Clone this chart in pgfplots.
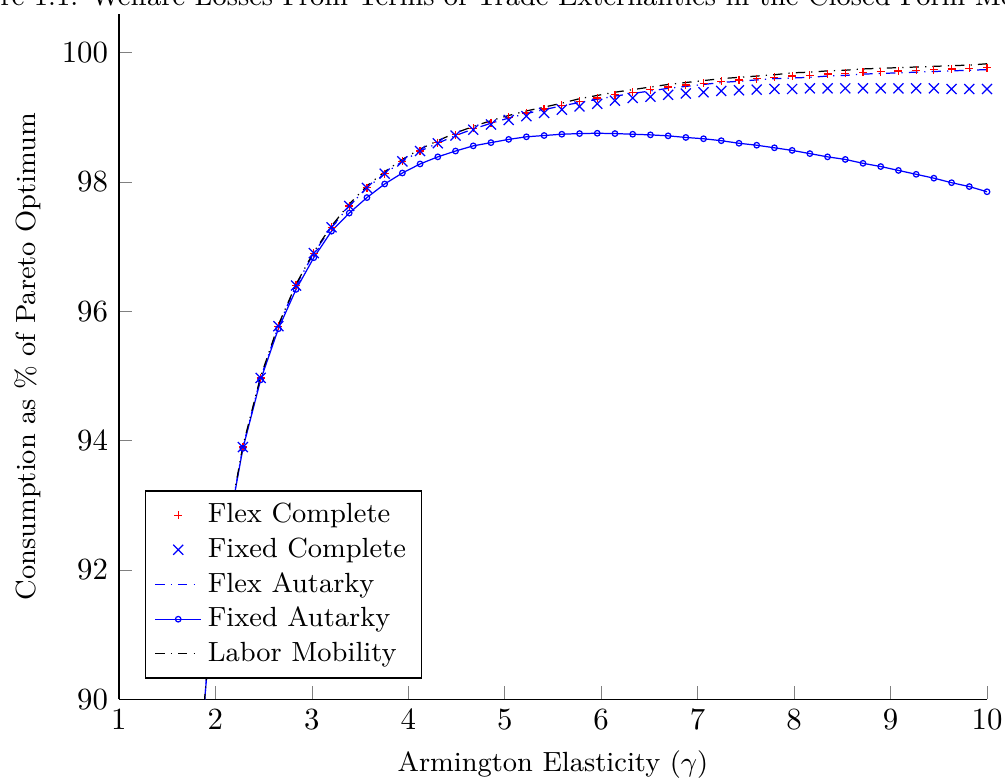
\documentclass[border=0pt]{standalone}
\usepackage{pgfplots}
\usepackage{pgfplotstable}
\pgfplotsset{compat=1.18}
\usetikzlibrary{calc}
\pgfplotstableread{
x fc fxc fa fxa lm
1.5510 82.50 82.50 82.50 82.50 82.55
1.7347 87.30 87.30 87.30 87.30 87.33
1.9184 90.50 90.50 90.50 90.50 90.52
2.1020 92.40 92.40 92.40 92.38 92.42
2.2857 93.90 93.90 93.90 93.88 93.92
2.4694 94.97 94.97 94.97 94.94 94.99
2.6531 95.77 95.77 95.77 95.73 95.79
2.8367 96.40 96.40 96.40 96.34 96.42
3.0204 96.90 96.90 96.90 96.83 96.92
3.2041 97.30 97.30 97.30 97.24 97.32
3.3878 97.63 97.63 97.63 97.52 97.66
3.5714 97.91 97.91 97.91 97.76 97.94
3.7551 98.13 98.13 98.13 97.97 98.16
3.9388 98.32 98.32 98.32 98.14 98.35
4.1224 98.48 98.48 98.48 98.28 98.51
4.3061 98.61 98.60 98.60 98.39 98.64
4.4898 98.73 98.72 98.72 98.48 98.76
4.6735 98.83 98.81 98.82 98.56 98.86
4.8571 98.92 98.89 98.91 98.61 98.95
5.0408 99.00 98.96 98.99 98.66 99.03
5.2245 99.07 99.02 99.06 98.70 99.10
5.4082 99.13 99.07 99.12 98.72 99.16
5.5918 99.19 99.12 99.18 98.74 99.22
5.7755 99.25 99.17 99.23 98.75 99.29
5.9592 99.30 99.21 99.28 98.755 99.34
6.1429 99.35 99.26 99.33 98.75 99.39
6.3265 99.39 99.30 99.37 98.74 99.43
6.5102 99.43 99.32 99.41 98.73 99.47
6.6939 99.47 99.35 99.45 98.715 99.51
6.8776 99.50 99.37 99.48 98.69 99.54
7.0612 99.53 99.39 99.51 98.67 99.57
7.2449 99.56 99.41 99.54 98.64 99.60
7.4286 99.58 99.42 99.56 98.60 99.62
7.6122 99.60 99.43 99.58 98.57 99.64
7.7959 99.62 99.44 99.60 98.53 99.66
7.9796 99.64 99.44 99.61 98.49 99.69
8.1633 99.65 99.45 99.62 98.44 99.70
8.3469 99.67 99.45 99.64 98.39 99.72
8.5306 99.68 99.45 99.65 98.35 99.73
8.7143 99.70 99.45 99.67 98.29 99.75
8.8980 99.71 99.45 99.68 98.24 99.76
9.0816 99.72 99.45 99.69 98.18 99.77
9.2653 99.73 99.45 99.70 98.12 99.78
9.4490 99.74 99.45 99.71 98.06 99.79
9.6327 99.75 99.44 99.72 97.99 99.80
9.8163 99.76 99.44 99.73 97.93 99.81
10.0000 99.77 99.44 99.74 97.85 99.83
}\datatable
\begin{document}
\begin{tikzpicture}
\begin{axis}[
  name=ax,
  set layers,
  scale only axis,
  width=281.8pt, height=222.4pt,
  xmin=1, xmax=10, ymin=90, ymax=100.6,
  axis x line*=bottom, axis y line*=left,
  xtick={1,2,...,10},
  ytick={90,92,94,96,98,100},
  xlabel={Armington Elasticity ($\gamma$)},
  ylabel={Consumption as \% of Pareto Optimum},
  label style={font=\small},
  legend style={at={(0.03,0.03)}, anchor=south west, draw=black, fill=white, font=\small, row sep=-0.65pt},
  legend cell align=left,
  legend image code/.code={\draw[mark repeat=2,mark phase=2,#1] plot coordinates {(0cm,0cm) (0.26cm,0cm) (0.52cm,0cm)};},
]
\addplot[only marks, red, mark=+, mark size=1.3pt, on layer=axis foreground] table[x=x, y=fc] {\datatable};
\addlegendentry{Flex Complete}
\addplot[only marks, blue, mark=x, mark size=2.3pt, on layer=axis foreground] table[x=x, y=fxc] {\datatable};
\addlegendentry{Fixed Complete}
\addplot[blue, dashdotted, no marks] table[x=x, y=fa] {\datatable};
\addlegendentry{Flex Autarky}
\addplot[color=blue, draw=blue, solid, mark=o, mark size=0.9pt, mark options={draw=blue}] table[x=x, y=fxa] {\datatable};
\addlegendentry{Fixed Autarky}
\addplot[black, dashdotted, no marks] table[x=x, y=lm] {\datatable};
\addlegendentry{Labor Mobility}
\end{axis}
\node[anchor=base west, inner sep=0pt, font=\small] at ($(ax.north west)+(-38.6pt,2.6pt)$) {\llap{Figu}re 1.1: Welfare Losses From Terms of Trade Externalities in the Closed Form Model};
\pgfresetboundingbox
\path ($(ax.south west)+(-38.6pt,-26.6pt)$) rectangle ($(ax.north east)+(5.84pt,4.55pt)$);
\end{tikzpicture}
\end{document}
